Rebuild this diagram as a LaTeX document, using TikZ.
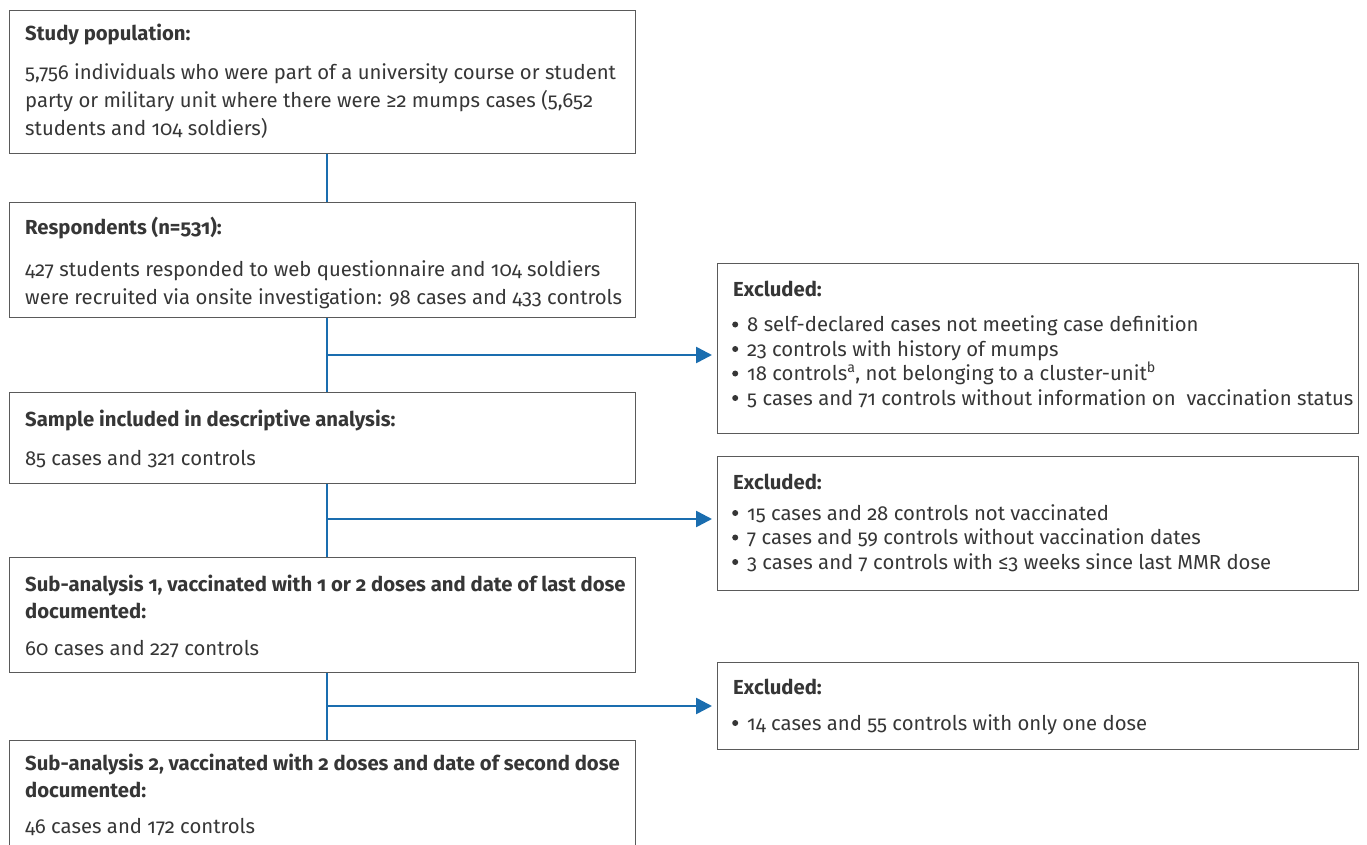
\documentclass[tikz,border=0pt]{standalone}
\usepackage{fontspec}
\setmainfont{Fira Sans}[Numbers=OldStyle]
\usetikzlibrary{arrows.meta}
\definecolor{txt}{HTML}{363636}
\definecolor{edge}{HTML}{5A5A5A}
\definecolor{flow}{HTML}{1A6DAF}
\newcommand\bul{\makebox[15pt][l]{\tikz[baseline=0pt]{\fill[txt] (3pt,7pt) circle[radius=3pt];}}}
\tikzset{
  box/.style={draw=edge, line width=1.2pt, anchor=north west, inner sep=0pt, minimum width=626pt},
  xbox/.style={draw=edge, line width=1.2pt, anchor=north west, inner sep=0pt, minimum width=641pt},
  ttl/.style={anchor=base west, inner sep=0pt, text=txt, align=left, font=\fontsize{20.3}{27}\selectfont\bfseries},
  body/.style={anchor=base west, inner sep=0pt, text=txt, align=left, font=\fontsize{20.3}{28}\selectfont},
  blist/.style={anchor=base west, inner sep=0pt, text=txt, align=left, font=\fontsize{20.3}{24.5}\selectfont},
  conn/.style={draw=flow, line width=2.6pt},
  harrow/.style={draw=flow, line width=2.6pt, -{Triangle[length=16pt,width=16pt]}, shorten >=5pt}
}
\begin{document}
\begin{tikzpicture}[x=1pt,y=-1pt]
\useasboundingbox (0,0) rectangle (1367,845);
% left boxes
\node[box, minimum height=143pt] (b1) at (9,10) {};
\node[box, minimum height=115pt] (b2) at (9,202) {};
\node[box, minimum height=91pt] (b3) at (9,392) {};
\node[box, minimum height=115pt] (b4) at (9,557) {};
\node[box, minimum height=130pt] (b5) at (9,740) {};
% right boxes
\node[xbox, minimum height=170pt] (e1) at (717,263) {};
\node[xbox, minimum height=134pt] (e2) at (717,456) {};
\node[xbox, minimum height=87pt] (e3) at (717,662) {};
% texts (base = baseline of last line)
\node[ttl] (t1) at (25,41) {Study population:};
\node[body] (x1) at (25,136) {5,756 individuals who were part of a university course or student\\party or military unit where there were ≥2 mumps cases (5,652\\students and 104 soldiers)};
\node[ttl] (t2) at (25,234) {Respondents (n=531):};
\node[body] (x2) at (25,304) {427 students responded to web questionnaire and 104 soldiers\\were recruited via onsite investigation: 98 cases and 433 controls};
\node[ttl] (t3) at (25,426) {Sample included in descriptive analysis:};
\node[body] (x3) at (25,465) {85 cases and 321 controls};
\node[ttl] (t4) at (25,618) {Sub-analysis 1, vaccinated with 1 or 2 doses and date of last dose\\documented:};
\node[body] (x4) at (25,655) {60 cases and 227 controls};
\node[ttl] (t5) at (25,797) {Sub-analysis 2, vaccinated with 2 doses and date of second dose\\documented:};
\node[body] (x5) at (25,833) {46 cases and 172 controls};
\node[ttl] (te1) at (733,296) {Excluded:};
\node[blist] (xe1) at (732,405) {\bul 8 self-declared cases not meeting case definition\\\bul 23 controls with history of mumps\\\bul 18 controls\textsuperscript{a}, not belonging to a cluster-unit\textsuperscript{b}\\\bul 5 cases and 71 controls without information on~ vaccination status};
\node[ttl] (te2) at (733,489) {Excluded:};
\node[blist] (xe2) at (732,569) {\bul 15 cases and 28 controls not vaccinated\\\bul 7 cases and 59 controls without vaccination dates\\\bul 3 cases and 7 controls with ≤3 weeks since last MMR dose};
\node[ttl] (te3) at (733,694) {Excluded:};
\node[blist] (xe3) at (732,730) {\bul 14 cases and 55 controls with only one dose};
% connectors
\coordinate (v) at (327,0);
\coordinate (a1) at (327,355);
\coordinate (a2) at (327,519);
\coordinate (a3) at (327,706);
\draw[conn] (b1.south -| v) -- (b2.north -| v);
\draw[conn] (b2.south -| v) -- (b3.north -| v);
\draw[conn] (b3.south -| v) -- (b4.north -| v);
\draw[conn] (b4.south -| v) -- (b5.north -| v);
\draw[harrow] (a1) -- (a1 -| e1.west);
\draw[harrow] (a2) -- (a2 -| e2.west);
\draw[harrow] (a3) -- (a3 -| e3.west);
\end{tikzpicture}
\end{document}
